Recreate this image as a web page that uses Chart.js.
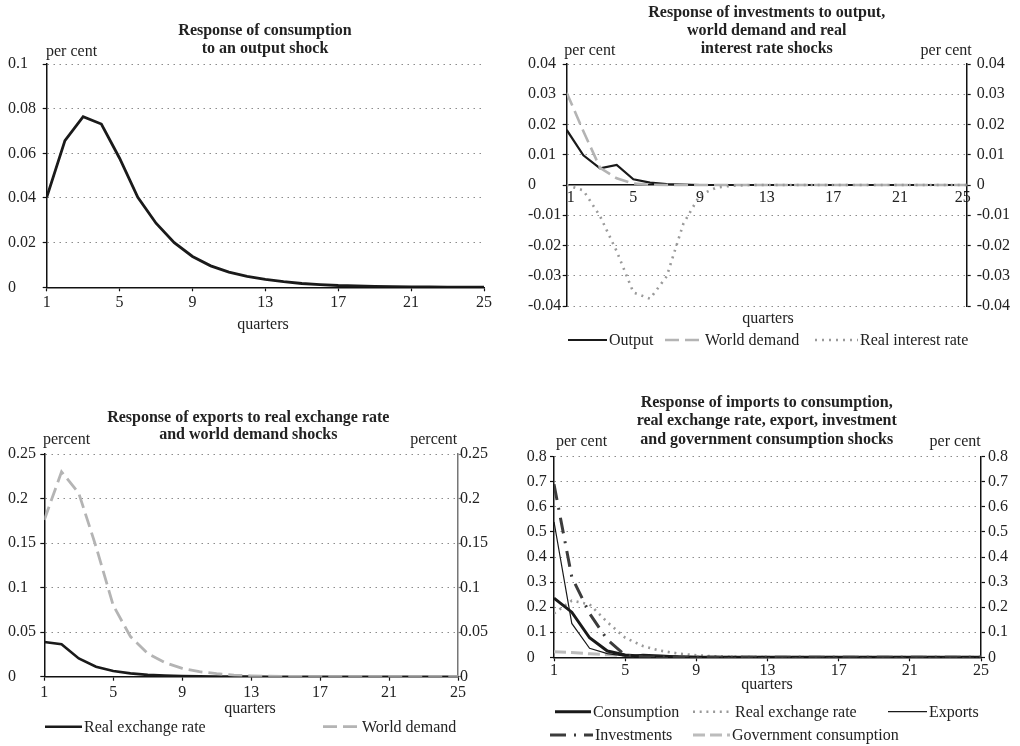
<!DOCTYPE html>
<html>
<head>
<meta charset="utf-8">
<script src="https://cdn.jsdelivr.net/npm/chart.js@4.4.0/dist/chart.umd.min.js"></script>
<style>
  body { margin: 0; background: #fff; }
  #wrap { position: relative; width: 1020px; height: 746px; }
  canvas { position: absolute; }
</style>
</head>
<body>
<div id="wrap">
  <canvas id="c1" width="510" height="340" style="left:0;top:0"></canvas>
  <canvas id="c2" width="510" height="360" style="left:510px;top:0"></canvas>
  <canvas id="c3" width="510" height="376" style="left:0;top:370px"></canvas>
  <canvas id="c4" width="510" height="376" style="left:510px;top:370px"></canvas>
</div>
<script>
// quarters on the x axis
const quarters = [1, 2, 3, 4, 5, 6, 7, 8, 9, 10, 11, 12, 13, 14, 15, 16, 17, 18, 19, 20, 21, 22, 23, 24, 25];
const quarterTicks = [1, 5, 9, 13, 17, 21, 25];

// consumption <- output shock
const consOutput = [0.0403, 0.0657, 0.0764, 0.0731, 0.0578, 0.0403, 0.0287, 0.0200, 0.0138, 0.0096, 0.0068, 0.0049, 0.0035, 0.0025, 0.0017, 0.0012, 0.0008, 0.0006, 0.0004, 0.0003, 0.0002, 0.0002, 0.0001, 0.0001, 0.0001];
const consTicks = [0, 0.02, 0.04, 0.06, 0.08, 0.1];

// investments
const invOutput = [0.0182, 0.0098, 0.0055, 0.0066, 0.0019, 0.0008, 0.0003, 0.0001, 0, 0, 0, 0, 0, 0, 0, 0, 0, 0, 0, 0, 0, 0, 0, 0, 0];
const invWorld = [0.0305, 0.0178, 0.0057, 0.0022, 0.0005, 0.0001, 0, 0, 0, 0, 0, 0, 0, 0, 0, 0, 0, 0, 0, 0, 0, 0, 0, 0, 0];
const invRate = [0, -0.0018, -0.0103, -0.0219, -0.0355, -0.0376, -0.0302, -0.0128, -0.0033, -0.0008, -0.0002, 0, 0, 0, 0, 0, 0, 0, 0, 0, 0, 0, 0, 0, 0];
const invTicks = [-0.04, -0.03, -0.02, -0.01, 0, 0.01, 0.02, 0.03, 0.04];

// exports
const expRer = [0.0390, 0.0365, 0.0205, 0.0112, 0.0063, 0.0037, 0.0021, 0.0012, 0.0007, 0.0004, 0.0002, 0.0001, 0.0001, 0, 0, 0, 0, 0, 0, 0, 0, 0, 0, 0, 0];
const expWorld = [0.176, 0.230, 0.206, 0.146, 0.080, 0.045, 0.026, 0.0157, 0.0094, 0.0056, 0.0034, 0.0018, 0.0010, 0.0006, 0.0003, 0.0002, 0.0001, 0, 0, 0, 0, 0, 0, 0, 0];
const expTicks = [0, 0.05, 0.1, 0.15, 0.2, 0.25];

// imports
const impCons = [0.236, 0.180, 0.078, 0.025, 0.009, 0.004, 0.002, 0.001, 0.0005, 0.0002, 0.0001, 0, 0, 0, 0, 0, 0, 0, 0, 0, 0, 0, 0, 0, 0];
const impRer = [0.175, 0.226, 0.211, 0.140, 0.078, 0.045, 0.026, 0.015, 0.008, 0.004, 0.002, 0.001, 0.0005, 0.0002, 0.0001, 0, 0, 0, 0, 0, 0, 0, 0, 0, 0];
const impExp = [0.540, 0.135, 0.036, 0.015, 0.005, 0.012, 0.009, 0.005, 0.003, 0.0015, 0.0008, 0.0004, 0.0002, 0.0001, 0, 0, 0, 0, 0, 0, 0, 0, 0, 0, 0];
const impInv = [0.690, 0.320, 0.175, 0.070, 0.008, 0.002, 0.001, 0, 0, 0, 0, 0, 0, 0, 0, 0, 0, 0, 0, 0, 0, 0, 0, 0, 0];
const impGov = [0.022, 0.019, 0.014, 0.010, 0.007, 0.005, 0.003, 0.002, 0.001, 0.0005, 0.0002, 0, 0, 0, 0, 0, 0, 0, 0, 0, 0, 0, 0, 0, 0];
const impTicks = [0, 0.1, 0.2, 0.3, 0.4, 0.5, 0.6, 0.7, 0.8];

const FONT = "'Liberation Serif', 'Times New Roman', serif";
Chart.defaults.font.family = FONT;
Chart.defaults.font.size = 16;
Chart.defaults.color = '#222';

// titles, unit labels and legends are painted straight on the canvas
const panelText = {
  id: 'panelText',
  afterDraw(chart, args, opts) {
    const ctx = chart.ctx;
    ctx.save();
    ctx.textBaseline = 'middle';
    ctx.fillStyle = '#222';
    (opts.texts || []).forEach(t => {
      ctx.font = (t.bold ? 'bold ' : '') + '16px ' + FONT;
      ctx.textAlign = t.align || 'left';
      ctx.fillText(t.text, t.x, t.y);
    });
    (opts.legend || []).forEach(l => {
      const ds = chart.data.datasets[l.ds];
      ctx.save();
      ctx.strokeStyle = ds.borderColor;
      ctx.lineWidth = ds.borderWidth;
      ctx.setLineDash(ds.borderDash || []);
      ctx.beginPath();
      ctx.moveTo(l.x1, l.y);
      ctx.lineTo(l.x2, l.y);
      ctx.stroke();
      ctx.restore();
      ctx.font = '16px ' + FONT;
      ctx.textAlign = 'left';
      ctx.fillText(ds.label, l.x2 + 2, l.y + 1);
    });
    ctx.restore();
  }
};

const fmt = v => String(Math.round(v * 1000) / 1000);

function xAxis(extra) {
  return Object.assign({
    type: 'linear', min: 1, max: 25,
    afterBuildTicks: s => { s.ticks = quarterTicks.map(v => ({ value: v })); },
    afterFit: s => { s.height = 30; },
    grid: { drawOnChartArea: false, tickLength: 4, tickColor: '#111', tickWidth: 1.2 },
    border: { color: '#111', width: 1.5 },
    ticks: { padding: 2, maxRotation: 0, autoSkip: false, callback: v => String(v) }
  }, extra || {});
}

function yAxis(tickList, width, side, pad, borderColor) {
  const left = side === 'left';
  return {
    type: 'linear', position: side,
    min: tickList[0], max: tickList[tickList.length - 1],
    afterBuildTicks: s => { s.ticks = tickList.map(v => ({ value: v })); },
    afterFit: s => { s.width = width; },
    grid: {
      drawOnChartArea: left,
      color: c => (c.tick && c.tick.value === 0) ? 'rgba(0,0,0,0)' : '#8c8c8c',
      lineWidth: 1,
      tickLength: 4, tickColor: borderColor || '#111', tickWidth: 1.2
    },
    border: { color: borderColor || '#111', width: 1.5, dash: [1.5, 4.5] },
    ticks: { crossAlign: left ? 'far' : 'near', padding: pad, callback: fmt }
  };
}

function line(label, data, color, width, dash, order) {
  return {
    label: label, data: data, borderColor: color, borderWidth: width,
    borderDash: dash || [], pointRadius: 0, tension: 0, fill: false,
    order: order || 0
  };
}

const base = { responsive: false, animation: false, events: [] };

new Chart(document.getElementById('c1'), {
  type: 'line',
  data: { labels: quarters, datasets: [line('Consumption', consOutput, '#1a1a1a', 2.8)] },
  options: Object.assign({}, base, {
    layout: { padding: { left: 8, right: 26, top: 64, bottom: 22.7 } },
    plugins: {
      legend: { display: false }, tooltip: { enabled: false },
      panelText: {
        texts: [
          { text: 'Response of consumption', x: 265, y: 31, bold: true, align: 'center' },
          { text: 'to an output shock', x: 265, y: 49, bold: true, align: 'center' },
          { text: 'per cent', x: 46, y: 52 },
          { text: 'quarters', x: 263, y: 325, align: 'center' }
        ]
      }
    },
    scales: { x: xAxis(), y: yAxis(consTicks, 38.7, 'left', 0) }
  }),
  plugins: [panelText]
});

// in this panel the quarter labels sit on the zero line, nudged off the two axes
const zeroLineLabel = v => v === 1 ? '  1' : (v === 25 ? '25  ' : String(v));

new Chart(document.getElementById('c2'), {
  type: 'line',
  data: {
    labels: quarters,
    datasets: [
      line('Output', invOutput, '#1a1a1a', 2.2, [], 2),
      line('World demand', invWorld, '#b4b4b4', 2.6, [14, 6], 1),
      line('Real interest rate', invRate, '#9a9a9a', 2.6, [2, 5], 0)
    ]
  },
  options: Object.assign({}, base, {
    layout: { padding: { left: 18, right: 8.3, top: 64, bottom: 54 } },
    plugins: {
      legend: { display: false }, tooltip: { enabled: false },
      panelText: {
        texts: [
          { text: 'Response of investments to output,', x: 256.7, y: 13, bold: true, align: 'center' },
          { text: 'world demand and real', x: 256.7, y: 31, bold: true, align: 'center' },
          { text: 'interest rate shocks', x: 256.7, y: 49, bold: true, align: 'center' },
          { text: 'per cent', x: 54.3, y: 51 },
          { text: 'per cent', x: 461.7, y: 51, align: 'right' },
          { text: 'quarters', x: 258, y: 319, align: 'center' }
        ],
        legend: [
          { ds: 0, x1: 58, x2: 97, y: 340 },
          { ds: 1, x1: 155, x2: 193, y: 340 },
          { ds: 2, x1: 305, x2: 348, y: 340 }
        ]
      }
    },
    scales: {
      x: xAxis({ position: { y: 0 }, grid: { drawOnChartArea: false, drawTicks: false }, ticks: { padding: 3, maxRotation: 0, autoSkip: false, callback: zeroLineLabel } }),
      y: yAxis(invTicks, 38.7, 'left', 0),
      y2: yAxis(invTicks, 45, 'right', 6)
    }
  }),
  plugins: [panelText]
});

new Chart(document.getElementById('c3'), {
  type: 'line',
  data: {
    labels: quarters,
    datasets: [
      line('Real exchange rate', expRer, '#1a1a1a', 2.6, [], 1),
      line('World demand', expWorld, '#b4b4b4', 2.8, [14, 6], 0)
    ]
  },
  options: Object.assign({}, base, {
    layout: { padding: { left: 8, right: 12, top: 84, bottom: 39.3 } },
    plugins: {
      legend: { display: false }, tooltip: { enabled: false },
      panelText: {
        texts: [
          { text: 'Response of exports to real exchange rate', x: 248.3, y: 48, bold: true, align: 'center' },
          { text: 'and world demand shocks', x: 248.3, y: 65, bold: true, align: 'center' },
          { text: 'percent', x: 43, y: 70 },
          { text: 'percent', x: 457.3, y: 70, align: 'right' },
          { text: 'quarters', x: 250, y: 338.3, align: 'center' }
        ],
        legend: [
          { ds: 0, x1: 45, x2: 82, y: 356.7 },
          { ds: 1, x1: 323, x2: 360, y: 356.7 }
        ]
      }
    },
    scales: {
      x: xAxis(),
      y: yAxis(expTicks, 36.3, 'left', 0),
      y2: yAxis(expTicks, 40, 'right', -2, '#777')
    }
  }),
  plugins: [panelText]
});

new Chart(document.getElementById('c4'), {
  type: 'line',
  data: {
    labels: quarters,
    datasets: [
      line('Consumption', impCons, '#1a1a1a', 3, [], 2),
      line('Real exchange rate', impRer, '#9a9a9a', 2.6, [2, 4.7], 3),
      line('Exports', impExp, '#1a1a1a', 1.2, [], 1),
      line('Investments', impInv, '#3c3c3c', 3, [16, 8, 2, 8], 0),
      line('Government consumption', impGov, '#bcbcbc', 3, [12, 5], 4)
    ]
  },
  options: Object.assign({}, base, {
    layout: { padding: { left: 16.7, right: 9, top: 86.7, bottom: 58.7 } },
    plugins: {
      legend: { display: false }, tooltip: { enabled: false },
      panelText: {
        texts: [
          { text: 'Response of imports to consumption,', x: 256.7, y: 33.3, bold: true, align: 'center' },
          { text: 'real exchange rate, export, investment', x: 256.7, y: 51, bold: true, align: 'center' },
          { text: 'and government consumption shocks', x: 256.7, y: 70, bold: true, align: 'center' },
          { text: 'per cent', x: 46, y: 72 },
          { text: 'per cent', x: 470.7, y: 72, align: 'right' },
          { text: 'quarters', x: 257, y: 315, align: 'center' }
        ],
        legend: [
          { ds: 0, x1: 45, x2: 81, y: 341.7 },
          { ds: 1, x1: 183, x2: 223, y: 341.7 },
          { ds: 2, x1: 378, x2: 417, y: 341.7 },
          { ds: 3, x1: 40, x2: 83, y: 365 },
          { ds: 4, x1: 183, x2: 220, y: 365 }
        ]
      }
    },
    scales: {
      x: xAxis({ ticks: { padding: 0, maxRotation: 0, autoSkip: false, callback: v => String(v) } }),
      y: yAxis(impTicks, 27.3, 'left', 0),
      y2: yAxis(impTicks, 30, 'right', 3)
    }
  }),
  plugins: [panelText]
});
</script>
</body>
</html>
